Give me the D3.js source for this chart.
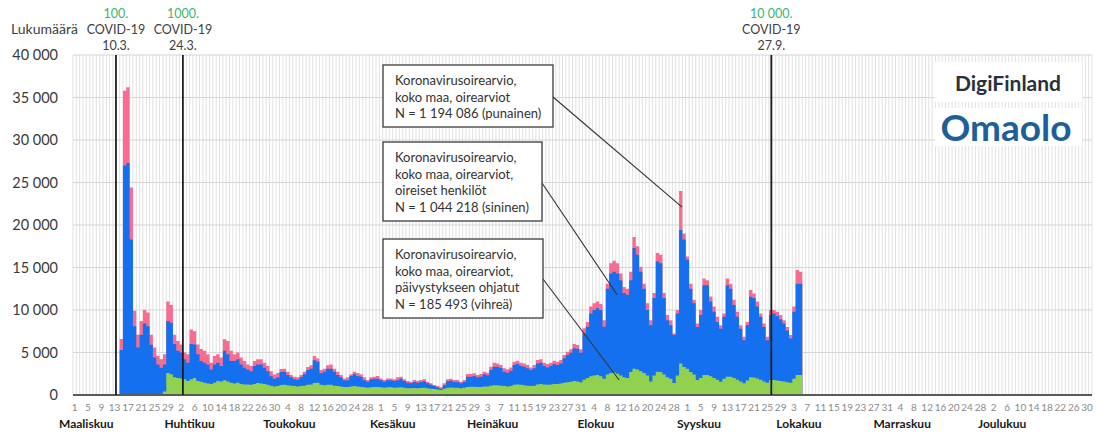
<!DOCTYPE html>
<html>
<head>
<meta charset="utf-8">
<script src="https://cdn.jsdelivr.net/npm/d3@7"></script>
<style>
  body { margin: 0; background: #fff; }
  svg text { font-family: Lato, "Open Sans", sans-serif; }
</style>
</head>
<body>
<div id="chart"></div>
<script>
// Data: daily counts, first value is 15.3.2020 (day 14 counted from 1.3.)
const firstDataDay = 14;
const dayCount = 306;

const totalValues = [
  6600, 35800, 36200, 24400, 9900, 7100, 8700, 10000, 9700, 7100,
  5600, 4600, 4200, 4800, 11000, 10600, 7100, 6350, 5950, 5000,
  4800, 7700, 7500, 5950, 5400, 5200, 4800, 3800, 4600, 4800,
  4400, 6550, 6350, 5200, 4800, 5000, 4400, 4000, 3600, 3400,
  4000, 4200, 4200, 3800, 3400, 2800, 2400, 2600, 3050, 3100,
  2750, 2350, 2150, 2080, 2350, 2750, 3300, 3500, 4600, 4300,
  2950, 3100, 3500, 3600, 3100, 2750, 2350, 1950, 2080, 2450,
  2750, 2600, 2450, 2080, 1760, 2080, 2150, 2250, 1950, 1760,
  1950, 1950, 1840, 2080, 2150, 1840, 1650, 1570, 1760, 1680,
  1760, 1840, 1570, 1370, 1180, 1060, 900, 1370, 1840, 1920,
  1760, 1760, 1570, 1760, 2470, 2470, 2550, 2350, 2470, 2750,
  2630, 3330, 3800, 3720, 3530, 3140, 3020, 3250, 3920, 4040,
  3800, 3720, 3530, 3250, 3530, 4120, 4200, 3800, 3650, 3800,
  4040, 3920, 4120, 4700, 5100, 5370, 6000, 5880, 5370, 7840,
  8600, 10400, 10800, 11000, 10700, 8800, 13100, 15500, 15800, 15500,
  14300, 12700, 12500, 14500, 18600, 17500, 15100, 13100, 10800, 8800,
  12000, 16700, 16500, 12000, 9400, 8800, 7250, 10000, 24000, 19000,
  16300, 13100, 11200, 8400, 10000, 13700, 13500, 11600, 10400, 9200,
  8200, 9600, 13700, 13100, 11200, 9800, 8200, 6850, 8600, 12350,
  11950, 11000, 9600, 8400, 6850, 10000, 10000, 9800, 9400, 8800,
  8000, 7050, 10400, 14700, 14500
];

const symptomValues = [
  5300, 27000, 27300, 18300, 8100, 5600, 7100, 8400, 8100, 5900,
  4400, 3600, 3200, 3600, 8700, 8500, 6000, 5200, 5000, 4200,
  3800, 6000, 5950, 4800, 4000, 3800, 3600, 3000, 3600, 3800,
  3400, 5200, 4800, 4000, 4000, 4200, 3600, 3200, 3000, 2800,
  3400, 3600, 3600, 3200, 2800, 2200, 1900, 2050, 2700, 2750,
  2350, 2080, 1840, 1800, 2080, 2450, 2950, 3100, 4100, 3900,
  2550, 2750, 3100, 3100, 2750, 2350, 2080, 1750, 1750, 2230,
  2450, 2250, 2150, 1750, 1570, 1840, 1900, 1900, 1750, 1570,
  1750, 1750, 1650, 1750, 1900, 1650, 1450, 1370, 1530, 1450,
  1530, 1610, 1370, 1220, 1060, 900, 750, 1140, 1610, 1690,
  1530, 1530, 1370, 1530, 2150, 2150, 2230, 2080, 2150, 2430,
  2320, 2940, 3330, 3330, 3180, 2750, 2630, 2860, 3530, 3650,
  3410, 3330, 3140, 2940, 3140, 3720, 3800, 3410, 3250, 3410,
  3650, 3530, 3720, 4310, 4700, 4980, 5490, 5450, 4980, 7250,
  8040, 9600, 10000, 10200, 10000, 8040, 12500, 14300, 14500, 14300,
  13500, 12000, 11800, 13500, 17300, 16500, 14500, 12500, 10000, 8200,
  11400, 15700, 15500, 11400, 8800, 8200, 7050, 9600, 19400, 18300,
  15900, 12500, 10800, 8000, 9400, 12900, 12900, 11000, 9800, 8600,
  7800, 9200, 12900, 12500, 10600, 9200, 7800, 6450, 8200, 11560,
  11400, 10400, 9200, 8000, 6450, 9400, 9600, 9300, 8900, 8400,
  7600, 6650, 9800, 13100, 13100
];

const triageValues = [
  0, 0, 0, 0, 0, 0, 0, 0, 0, 0,
  0, 0, 0, 400, 2600, 2450, 2100, 2000, 1950, 1850,
  1650, 1850, 2000, 1650, 1550, 1450, 1350, 1300, 1450, 1650,
  1600, 1750, 1600, 1450, 1350, 1450, 1300, 1250, 1250, 1200,
  1300, 1400, 1350, 1300, 1200, 1100, 1000, 1050, 1180, 1200,
  1150, 1100, 1050, 1000, 1050, 1100, 1200, 1250, 1400, 1450,
  1200, 1150, 1200, 1200, 1100, 1050, 1000, 950, 950, 1000,
  1050, 1000, 950, 900, 850, 900, 950, 950, 900, 850,
  900, 900, 850, 880, 900, 850, 800, 780, 820, 800,
  820, 850, 800, 750, 700, 650, 600, 750, 850, 880,
  850, 850, 800, 850, 950, 980, 980, 950, 950, 1000,
  1000, 1100, 1150, 1150, 1100, 1050, 1000, 1050, 1200, 1250,
  1200, 1150, 1100, 1050, 1100, 1250, 1300, 1250, 1200, 1250,
  1300, 1300, 1350, 1450, 1500, 1550, 1650, 1600, 1500, 1800,
  2000, 2200, 2300, 2350, 2200, 1900, 2400, 2600, 2650, 2500,
  2300, 2100, 2000, 2700, 3100, 3000, 2800, 2600, 2300, 1600,
  2300, 2750, 2700, 2400, 2100, 1900, 1400, 2300, 3700, 3300,
  3100, 2700, 2400, 1760, 2000, 2350, 2350, 2200, 2000, 1800,
  1570, 1900, 2150, 2150, 2000, 1800, 1600, 1370, 1700, 2080,
  2050, 1950, 1800, 1600, 1450, 1760, 1760, 1700, 1650, 1600,
  1500, 1450, 1900, 2350, 2350
];

const yTicks = [0, 5000, 10000, 15000, 20000, 25000, 30000, 35000, 40000];
const monthLabels = ["Maaliskuu", "Huhtikuu", "Toukokuu", "Kesäkuu", "Heinäkuu",
  "Elokuu", "Syyskuu", "Lokakuu", "Marraskuu", "Joulukuu"];

// COVID-19 case milestones (day = position in days from 1.3.)
const milestoneDays = [12.9, 33, 209.7];
const milestoneCounts = ["100.", "1000.", "10 000."];
const milestoneDates = ["10.3.", "24.3.", "27.9."];

const noteTexts = [
  ["Koronavirusoirearvio,", "koko maa, oirearviot", "N = 1 194 086 (punainen)"],
  ["Koronavirusoirearvio,", "koko maa, oirearviot,", "oireiset henkilöt", "N = 1 044 218 (sininen)"],
  ["Koronavirusoirearvio,", "koko maa, oirearviot,", "päivystykseen ohjatut", "N = 185 493 (vihreä)"]
];
const noteTargetDays = [182.9, 163.4, 164];
const noteTargetValues = [22100, 11800, 1760];

function draw() {
  const dimensions = {
    width: 1096,
    height: 434,
    left: 73,
    right: 1092,
    top: 55,
    bottom: 395,
  };

  const startDate = new Date(2020, 2, 1);
  const days = d3.range(dayCount).map((i) => d3.timeDay.offset(startDate, i));

  const svg = d3
    .select("#chart")
    .append("svg")
    .attr("width", dimensions.width)
    .attr("height", dimensions.height);

  // Scales
  const xScale = d3.scaleLinear().domain([0, dayCount]).range([dimensions.left, dimensions.right]);
  const yScale = d3.scaleLinear().domain([0, 40000]).range([dimensions.bottom, dimensions.top]);

  // Grid
  svg.append("g")
    .selectAll("line")
    .data(d3.range(dayCount + 1))
    .join("line")
    .attr("x1", (d) => xScale(d))
    .attr("x2", (d) => xScale(d))
    .attr("y1", dimensions.top)
    .attr("y2", dimensions.bottom)
    .attr("stroke", "#d4d4d4")
    .attr("stroke-width", 0.7);

  svg.append("g")
    .selectAll("line")
    .data(yTicks.slice(1))
    .join("line")
    .attr("x1", dimensions.left)
    .attr("x2", dimensions.right)
    .attr("y1", (d) => yScale(d))
    .attr("y2", (d) => yScale(d))
    .attr("stroke", "#d6d6d6")
    .attr("stroke-width", 1.2);

  // Daily columns drawn as stepped areas, one over another
  const series = [
    { values: totalValues, color: "#f96c92" },
    { values: symptomValues, color: "#1570ef" },
    { values: triageValues, color: "#92d050" },
  ];
  const area = d3
    .area()
    .curve(d3.curveStepAfter)
    .x((d) => xScale(d.day))
    .y0(yScale(0))
    .y1((d) => yScale(d.value));

  series.forEach((s) => {
    const pts = s.values.map((v, i) => ({ day: firstDataDay + i, value: v }));
    pts.push({ day: firstDataDay + s.values.length, value: s.values[s.values.length - 1] });
    svg.append("path")
      .datum(pts)
      .attr("d", area)
      .attr("fill", s.color);
  });

  // Axis line
  svg.append("line")
    .attr("x1", dimensions.left)
    .attr("x2", dimensions.right)
    .attr("y1", yScale(0))
    .attr("y2", yScale(0))
    .attr("stroke", "#5a5a5a")
    .attr("stroke-width", 2);

  // Y labels
  const fmt = (d) => d3.format(",")(d).replace(/,/g, " ");
  svg.append("g")
    .selectAll("text")
    .data(yTicks)
    .join("text")
    .attr("x", 58)
    .attr("y", (d) => yScale(d))
    .attr("dy", "0.35em")
    .attr("text-anchor", "end")
    .attr("font-size", 14.5)
    .attr("fill", "#3a3a3a")
    .text(fmt);

  // X day labels, every 4th day
  svg.append("g")
    .selectAll("text")
    .data(days.filter((d, i) => i % 4 === 0))
    .join("text")
    .attr("x", (d) => xScale(d3.timeDay.count(startDate, d) + 0.5))
    .attr("y", 411)
    .attr("text-anchor", "middle")
    .attr("font-size", 10)
    .attr("fill", "#8a8a8a")
    .text((d) => d.getDate());

  // Month labels
  const monthStarts = days.filter((d) => d.getDate() === 1);
  svg.append("g")
    .selectAll("text")
    .data(monthStarts)
    .join("text")
    .attr("x", (d) => xScale(d3.timeDay.count(startDate, d) + 4))
    .attr("y", 428)
    .attr("text-anchor", "middle")
    .attr("font-size", 12)
    .attr("font-weight", "bold")
    .attr("fill", "#1a1a1a")
    .text((d, i) => monthLabels[i]);

  // Milestone lines
  svg.append("g")
    .selectAll("line")
    .data(milestoneDays)
    .join("line")
    .attr("x1", (d) => xScale(d))
    .attr("x2", (d) => xScale(d))
    .attr("y1", dimensions.top)
    .attr("y2", dimensions.bottom)
    .attr("stroke", "#1e1e1e")
    .attr("stroke-width", 1.8);

  const ms = svg.append("g")
    .selectAll("g")
    .data(milestoneDays)
    .join("g")
    .attr("transform", (d) => `translate(${xScale(d)},0)`)
    .attr("text-anchor", "middle")
    .attr("font-size", 12.5);
  ms.append("text").attr("y", 18).attr("fill", "#3cb46e").text((d, i) => milestoneCounts[i]);
  ms.append("text").attr("y", 34).attr("fill", "#404040").text("COVID-19");
  ms.append("text").attr("y", 50).attr("fill", "#404040").text((d, i) => milestoneDates[i]);

  svg.append("text")
    .attr("x", 11)
    .attr("y", 34)
    .attr("font-size", 14)
    .attr("fill", "#404040")
    .text("Lukumäärä");

  // Note boxes
  const boxes = [
    { x: 383, y: 65, w: 170, h: 62, anchorY: 97 },
    { x: 383, y: 142, w: 159, h: 79, anchorY: 183 },
    { x: 383, y: 239, w: 160, h: 79, anchorY: 279 },
  ];
  boxes.forEach((b, i) => {
    svg.append("line")
      .attr("x1", b.x + b.w)
      .attr("y1", b.anchorY)
      .attr("x2", xScale(noteTargetDays[i]))
      .attr("y2", yScale(noteTargetValues[i]))
      .attr("stroke", "#333")
      .attr("stroke-width", 1.1);
    svg.append("rect")
      .attr("x", b.x)
      .attr("y", b.y)
      .attr("width", b.w)
      .attr("height", b.h)
      .attr("fill", "#fff")
      .attr("stroke", "#3c3c3c")
      .attr("stroke-width", 1.3);
    svg.append("g")
      .selectAll("text")
      .data(noteTexts[i])
      .join("text")
      .attr("x", b.x + 12)
      .attr("y", (d, j) => b.y + 20 + j * 16.7)
      .attr("font-size", 13)
      .attr("fill", "#333")
      .text((d) => d);
  });

  // Logos
  svg.append("rect").attr("x", 935).attr("y", 62).attr("width", 147).attr("height", 40).attr("fill", "#fff");
  svg.append("text")
    .attr("x", 1008)
    .attr("y", 91)
    .attr("text-anchor", "middle")
    .attr("font-family", "'Open Sans', sans-serif")
    .attr("font-weight", "bold")
    .attr("font-size", 21)
    .attr("fill", "#27313d")
    .text("DigiFinland");
  svg.append("rect").attr("x", 935).attr("y", 108).attr("width", 147).attr("height", 38).attr("fill", "#fff");
  svg.append("text")
    .attr("x", 1006)
    .attr("y", 141)
    .attr("text-anchor", "middle")
    .attr("font-size", 37)
    .attr("font-weight", "bold")
    .attr("fill", "#1d5f98")
    .text("Omaolo");
}

draw();
</script>
</body>
</html>
